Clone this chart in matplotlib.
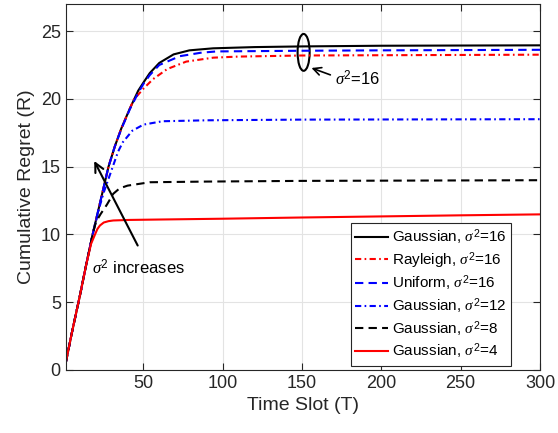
import matplotlib
matplotlib.use("Agg")
import matplotlib.pyplot as plt
from matplotlib.patches import Ellipse

plt.rcParams['font.family'] = ['Liberation Sans', 'DejaVu Sans']
plt.rcParams['mathtext.fontset'] = 'custom'
plt.rcParams['mathtext.rm'] = 'Liberation Sans'
plt.rcParams['mathtext.it'] = 'Liberation Serif:italic'

# time slots and cumulative regret
T_G16 = [1, 5, 10, 14, 18, 23, 28, 32, 36, 41.5, 46.7, 50, 54, 60, 69, 79, 94, 120, 150, 200, 300]
G16 = [0.5, 2.8, 5.5, 7.8, 10.0, 12.5, 15.0, 16.5, 17.8, 19.3, 20.6, 21.2, 21.9, 22.65, 23.28, 23.58, 23.73, 23.82, 23.87, 23.92, 23.95]

T_RAY = [1, 5, 10, 14, 18, 23, 28, 32, 36, 41.5, 44, 47, 50, 56, 65, 77, 94, 110, 150, 200, 300]
RAY16 = [0.5, 2.8, 5.5, 7.8, 10.0, 12.5, 15.0, 16.5, 17.8, 19.3, 19.95, 20.35, 20.75, 21.45, 22.2, 22.75, 23.04, 23.12, 23.2, 23.22, 23.26]

T_UNI = [1, 5, 10, 14, 18, 23, 28, 32, 36, 41.5, 47, 50, 54, 60, 73, 86, 96, 150, 200, 300]
UNI16 = [0.5, 2.8, 5.5, 7.8, 10.0, 12.5, 15.0, 16.5, 17.75, 19.25, 20.5, 21.1, 21.75, 22.5, 23.15, 23.4, 23.5, 23.55, 23.58, 23.62]

T_G12 = [1, 5, 10, 14, 18, 22, 25, 28, 31, 34, 37, 43, 50, 62, 90, 150, 300]
G12 = [0.5, 2.8, 5.5, 7.8, 10.0, 11.9, 13.1, 14.1, 15.1, 16.1, 16.8, 17.65, 18.1, 18.35, 18.42, 18.47, 18.5]

T_G8 = [1, 5, 10, 14, 18, 20, 23, 27, 31, 35, 40, 54, 90, 150, 300]
G8 = [0.5, 2.8, 5.5, 7.8, 10.0, 10.9, 11.5, 12.2, 13.0, 13.4, 13.6, 13.85, 13.9, 13.95, 14.0]

T_G4 = [1, 5, 10, 14, 17, 19.5, 21, 22.6, 25, 28, 31, 41, 60, 100, 150, 200, 250, 300]
G4 = [0.5, 2.8, 5.5, 7.8, 9.3, 10.0, 10.4, 10.66, 10.88, 10.98, 11.03, 11.07, 11.1, 11.16, 11.25, 11.33, 11.41, 11.48]

DASH = (4, 2.5)
DASHDOT = (3, 1.6, 0.8, 1.6)

fig = plt.figure(figsize=(5.58, 4.33), dpi=100)
ax = fig.add_axes([0.1177, 0.1455, 0.85, 0.8453])

ax.plot(T_G16, G16, 'k-', lw=1.5, label=r'Gaussian, $\sigma^2$=16')
ax.plot(T_RAY, RAY16, 'r', lw=1.5, dashes=DASHDOT, label=r'Rayleigh, $\sigma^2$=16')
ax.plot(T_UNI, UNI16, 'b', lw=1.5, dashes=DASH, label=r'Uniform, $\sigma^2$=16')
ax.plot(T_G12, G12, 'b', lw=1.5, dashes=DASHDOT, label=r'Gaussian, $\sigma^2$=12')
ax.plot(T_G8, G8, 'k', lw=1.5, dashes=DASH, label=r'Gaussian, $\sigma^2$=8')
ax.plot(T_G4, G4, 'r-', lw=1.5, label=r'Gaussian, $\sigma^2$=4')

ax.set_xlim(1, 300)
ax.set_ylim(0, 27)
ax.set_xticks([50, 100, 150, 200, 250, 300])
ax.set_yticks([0, 5, 10, 15, 20, 25])
ax.grid(True, color='#e3e3e3', lw=0.8)
ax.set_axisbelow(True)
ax.tick_params(direction='in', top=True, right=True, labelsize=13, colors='#262626', length=5)
for s in ax.spines.values():
    s.set_color('#262626')
    s.set_linewidth(0.8)
ax.set_xlabel('Time Slot (T)', fontsize=14, color='#262626')
ax.set_ylabel('Cumulative Regret (R)', fontsize=14, color='#262626')

# annotations
ax.add_patch(Ellipse((151, 23.43), 7.6, 2.72, fill=False, lw=1.5, ec='k'))
ax.annotate('', xy=(154.3, 22.35), xytext=(169.5, 21.7),
            arrowprops=dict(arrowstyle='->', lw=1.2, color='k', mutation_scale=14))
ax.text(171, 21.5, r'$\sigma^2$=16', fontsize=12, va='center', ha='left')

ax.annotate('', xy=(18.2, 15.6), xytext=(47.2, 9.0),
            arrowprops=dict(arrowstyle='->', lw=1.5, color='k', mutation_scale=16))
ax.text(17.6, 7.57, r'$\sigma^2$ increases', fontsize=12, va='center', ha='left')

leg = ax.legend(loc='lower right', bbox_to_anchor=(0.939, 0.011), borderaxespad=0,
                fontsize=11, fancybox=False, framealpha=1, edgecolor='#262626',
                handlelength=2.15, handletextpad=0.24, labelspacing=0.18, borderpad=0.3)
leg.get_frame().set_linewidth(0.8)

fig.savefig('out.png', dpi=100)
